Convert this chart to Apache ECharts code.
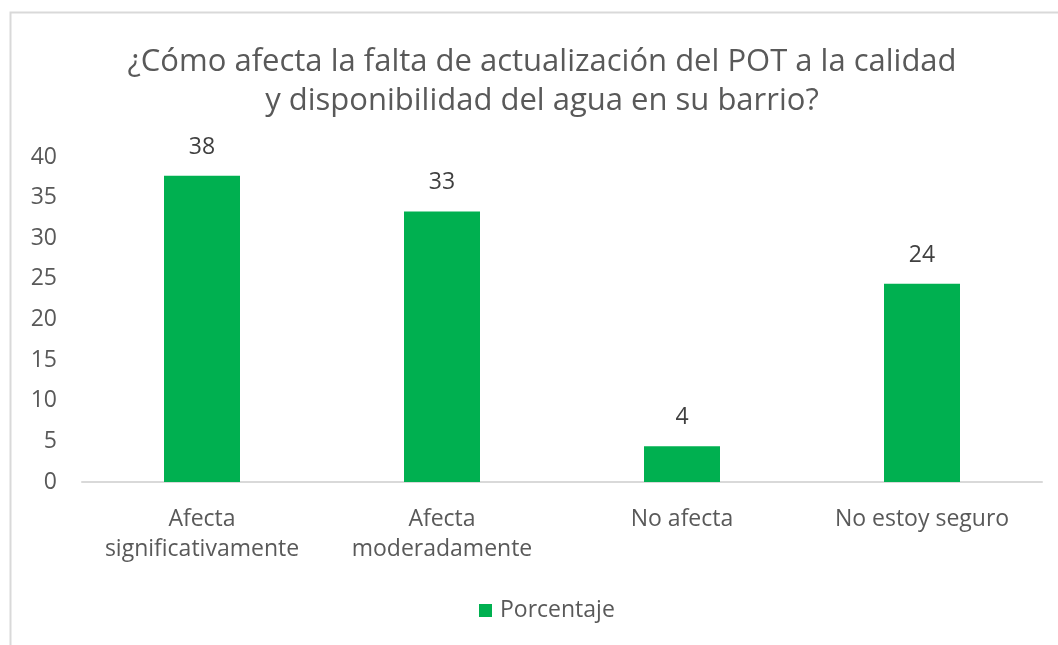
<!DOCTYPE html>
<html>
<head>
<meta charset="utf-8">
<script src="https://cdn.jsdelivr.net/npm/echarts@6/dist/echarts.min.js"></script>
<style>
html,body{margin:0;padding:0;background:#fff;}
#chart{width:1058px;height:645px;}
</style>
</head>
<body>
<div id="chart"></div>
<script>
const titleText = '¿Cómo afecta la falta de actualización del POT a la calidad\ny disponibilidad del agua en su barrio?';
const categories = ['Afecta\nsignificativamente', 'Afecta\nmoderadamente', 'No afecta', 'No estoy seguro'];
const seriesName = 'Porcentaje';
const values = [37.7, 33.3, 4.4, 24.4];

const FONT = 'Open Sans';
const chart = echarts.init(document.getElementById('chart'));
chart.setOption({
  backgroundColor: '#ffffff',
  animation: false,
  textStyle: { fontFamily: FONT },
  graphic: [{
    type: 'rect',
    silent: true,
    shape: { x: 10.5, y: 12.5, width: 1200, height: 800 },
    style: { fill: 'none', stroke: '#D9D9D9', lineWidth: 2 }
  }],
  title: {
    text: titleText,
    left: 537,
    textAlign: 'center',
    top: 38,
    textStyle: { fontFamily: FONT, fontSize: 31, fontWeight: 'normal', color: '#595959', lineHeight: 39 }
  },
  legend: {
    top: 594,
    left: 474,
    itemWidth: 13,
    itemHeight: 13,
    icon: 'rect',
    itemGap: 8,
    textStyle: { fontFamily: FONT, fontSize: 23, color: '#595959', padding: [0, 0, 0, 3] },
    data: [seriesName]
  },
  grid: { left: 82, right: 16, top: 157, bottom: 163, containLabel: false },
  xAxis: {
    type: 'category',
    data: categories,
    axisLine: { lineStyle: { color: '#D9D9D9', width: 2 } },
    axisTick: { show: false },
    axisLabel: { fontFamily: FONT, fontSize: 23, color: '#595959', lineHeight: 30, margin: 22, interval: 0 }
  },
  yAxis: {
    type: 'value',
    min: 0,
    max: 40,
    interval: 5,
    splitLine: { show: false },
    axisLine: { show: false },
    axisTick: { show: false },
    axisLabel: { fontFamily: FONT, fontSize: 23, color: '#595959', margin: 25 }
  },
  series: [{
    name: seriesName,
    type: 'bar',
    data: values,
    barWidth: 76,
    itemStyle: { color: '#00B050' },
    label: {
      show: true,
      position: 'top',
      distance: 17,
      fontFamily: FONT,
      fontSize: 23,
      color: '#404040',
      formatter: p => String(Math.round(p.value))
    }
  }]
});
</script>
</body>
</html>
